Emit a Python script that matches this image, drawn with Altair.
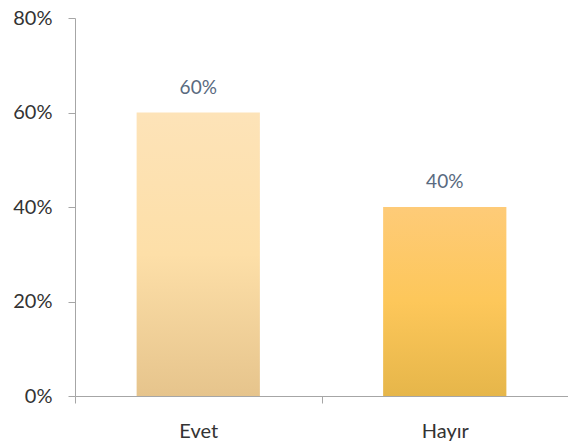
import altair as alt
import pandas as pd

categories = ["Evet", "Hayır"]
values = [0.60, 0.40]
labels = ["60%", "40%"]
top_colors = ["#fde3b8", "#fecb78"]
mid_colors = ["#fddfa8", "#fdc75a"]
bottom_colors = ["#e6c48c", "#e6b64a"]
y_ticks = [0, 0.2, 0.4, 0.6, 0.8]

df = pd.DataFrame({"cat": categories, "val": values, "label": labels})

FONT = "Lato"
AXIS_GRAY = "#a6a6a6"

x_enc = alt.X(
    "cat:N",
    sort=categories,
    scale=alt.Scale(paddingInner=0, paddingOuter=0),
    axis=alt.Axis(
        title=None, labelAngle=0, tickBand="extent", tickSize=7,
        labelPadding=18, labelFontSize=20, labelFont=FONT, labelColor="#333333",
        domainColor=AXIS_GRAY, tickColor=AXIS_GRAY,
    ),
)
y_enc = alt.Y(
    "val:Q",
    scale=alt.Scale(domain=[0, 0.8], nice=False),
    axis=alt.Axis(
        title=None, values=y_ticks, format=".0%", grid=False, tickSize=7,
        labelPadding=16, labelFontSize=20, labelFont=FONT, labelColor="#333333",
        domainColor=AXIS_GRAY, tickColor=AXIS_GRAY,
    ),
)

layers = []
for i, c in enumerate(categories):
    grad = alt.Gradient(
        gradient="linear",
        stops=[
            alt.GradientStop(color=top_colors[i], offset=0),
            alt.GradientStop(color=mid_colors[i], offset=0.5),
            alt.GradientStop(color=bottom_colors[i], offset=1),
        ],
        x1=0, x2=0, y1=0, y2=1,
    )
    layers.append(
        alt.Chart(df)
        .transform_filter(alt.datum.cat == c)
        .mark_bar(color=grad, width={"band": 0.5})
        .encode(x=x_enc, y=y_enc)
    )

text = (
    alt.Chart(df)
    .mark_text(baseline="alphabetic", dy=-19, fontSize=19, font=FONT, color="#596a80")
    .encode(x=alt.X("cat:N", sort=categories), y="val:Q", text="label:N")
)

chart = (
    alt.layer(*layers, text)
    .properties(
        width=493, height=378,
        autosize=alt.AutoSizeParams(type="none"),
        padding={"left": 75, "top": 18, "right": 0, "bottom": 52},
    )
    .configure_view(stroke=None)
)

chart.save("out.html", embed_options={"renderer": "svg", "actions": False})
